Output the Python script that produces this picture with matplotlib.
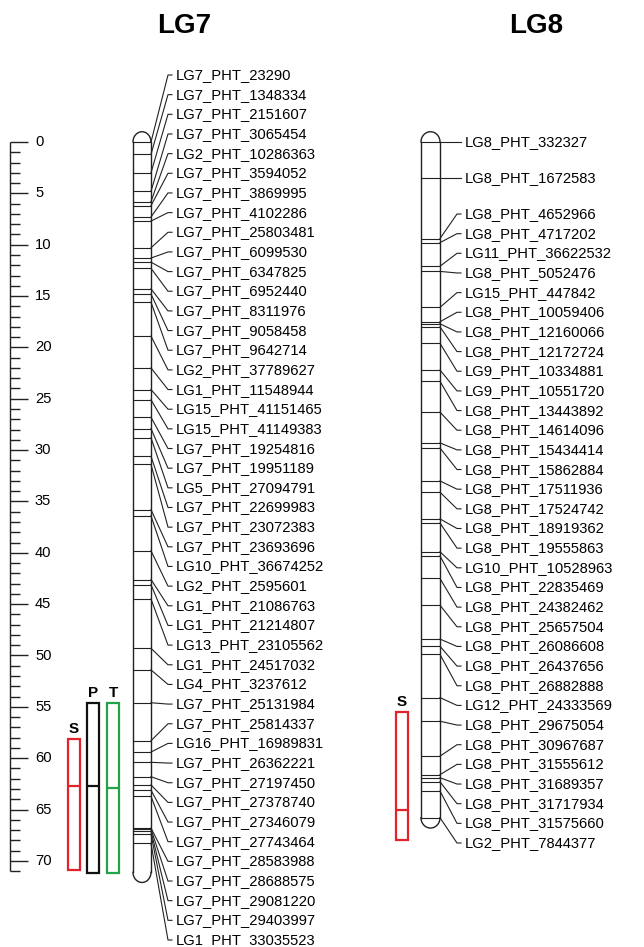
import numpy as np
import matplotlib.pyplot as plt
from matplotlib.patches import Rectangle

plt.rcParams['font.family'] = ['Liberation Sans', 'DejaVu Sans']

# marker names and map positions (cM)
lg7_names = [
    'LG7_PHT_23290', 'LG7_PHT_1348334', 'LG7_PHT_2151607', 'LG7_PHT_3065454',
    'LG2_PHT_10286363', 'LG7_PHT_3594052', 'LG7_PHT_3869995', 'LG7_PHT_4102286',
    'LG7_PHT_25803481', 'LG7_PHT_6099530', 'LG7_PHT_6347825', 'LG7_PHT_6952440',
    'LG7_PHT_8311976', 'LG7_PHT_9058458', 'LG7_PHT_9642714', 'LG2_PHT_37789627',
    'LG1_PHT_11548944', 'LG15_PHT_41151465', 'LG15_PHT_41149383', 'LG7_PHT_19254816',
    'LG7_PHT_19951189', 'LG5_PHT_27094791', 'LG7_PHT_22699983', 'LG7_PHT_23072383',
    'LG7_PHT_23693696', 'LG10_PHT_36674252', 'LG2_PHT_2595601', 'LG1_PHT_21086763',
    'LG1_PHT_21214807', 'LG13_PHT_23105562', 'LG1_PHT_24517032', 'LG4_PHT_3237612',
    'LG7_PHT_25131984', 'LG7_PHT_25814337', 'LG16_PHT_16989831', 'LG7_PHT_26362221',
    'LG7_PHT_27197450', 'LG7_PHT_27378740', 'LG7_PHT_27346079', 'LG7_PHT_27743464',
    'LG7_PHT_28583988', 'LG7_PHT_28688575', 'LG7_PHT_29081220', 'LG7_PHT_29403997',
    'LG1_PHT_33035523']
lg7_pos = [0.0, 1.2, 3.0, 4.8, 5.8, 6.2, 7.3, 7.7, 10.3, 11.3, 11.7, 12.3, 14.3, 14.8,
           15.6, 18.9, 22.0, 24.1, 25.1, 26.8, 27.9, 28.8, 30.6, 31.4, 35.8, 36.4,
           39.8, 42.6, 43.1, 44.5, 49.3, 51.4, 54.6, 58.3, 59.4, 60.4, 61.8, 62.6,
           63.1, 63.7, 66.8, 66.9, 67.1, 67.4, 68.3]
lg7_end = 71.1

lg8_names = [
    'LG8_PHT_332327', 'LG8_PHT_1672583', 'LG8_PHT_4652966', 'LG8_PHT_4717202',
    'LG11_PHT_36622532', 'LG8_PHT_5052476', 'LG15_PHT_447842', 'LG8_PHT_10059406',
    'LG8_PHT_12160066', 'LG8_PHT_12172724', 'LG9_PHT_10334881', 'LG9_PHT_10551720',
    'LG8_PHT_13443892', 'LG8_PHT_14614096', 'LG8_PHT_15434414', 'LG8_PHT_15862884',
    'LG8_PHT_17511936', 'LG8_PHT_17524742', 'LG8_PHT_18919362', 'LG8_PHT_19555863',
    'LG10_PHT_10528963', 'LG8_PHT_22835469', 'LG8_PHT_24382462', 'LG8_PHT_25657504',
    'LG8_PHT_26086608', 'LG8_PHT_26437656', 'LG8_PHT_26882888', 'LG12_PHT_24333569',
    'LG8_PHT_29675054', 'LG8_PHT_30967687', 'LG8_PHT_31555612', 'LG8_PHT_31689357',
    'LG8_PHT_31717934', 'LG8_PHT_31575660', 'LG2_PHT_7844377']
lg8_pos = [0.0, 3.5, 9.4, 9.8, 12.1, 12.6, 16.1, 17.5, 17.7, 18.0, 19.6, 22.2, 23.3,
           26.3, 29.3, 29.8, 33.0, 34.1, 36.7, 37.1, 39.9, 40.3, 42.5, 45.1, 48.4,
           49.1, 49.9, 54.1, 56.4, 59.8, 61.6, 61.9, 62.3, 63.2, 65.8]
lg8_end = 65.8

# QTL intervals: start, peak, end (cM)
qtl_names = ['S', 'P', 'T']
qtl_colors = ['#e3232c', '#111111', '#23a347']
lg7_qtl_start = [58.1, 54.6, 54.6]
lg7_qtl_peak = [62.7, 62.7, 62.9]
lg7_qtl_end = [70.9, 71.2, 71.2]
lg8_qtl_start = [55.5]
lg8_qtl_peak = [65.0]
lg8_qtl_end = [68.0]

ruler_max = 71

# pixel layout
PX = 10.27   # pixels per cM
Y0 = 142     # pixel row of 0 cM


def cm(ypix):
    return (ypix - Y0) / PX


fig = plt.figure(figsize=(6.44, 9.47), dpi=100)
ax = fig.add_axes([0, 0, 1, 1])
ax.set_xlim(0, 644)
ax.set_ylim(cm(947), cm(0))
ax.axis('off')

line_col = '#222222'


def draw_chrom(x0, x1, pos, end, names, label_y, title):
    cx = (x0 + x1) / 2
    r = (x1 - x0) / 2
    cap = 1.0
    t = np.linspace(0, np.pi, 60)
    ax.plot([x0, x0], [0, end], color=line_col, lw=1.0)
    ax.plot([x1, x1], [0, end], color=line_col, lw=1.0)
    ax.plot(cx + r * np.cos(t), -cap * np.sin(t), color=line_col, lw=1.0)
    ax.plot(cx + r * np.cos(t), end + cap * np.sin(t), color=line_col, lw=1.0)
    ax.hlines(pos, x0, x1, color=line_col, lw=0.8)
    xk = x1 + 17
    for m, ly, nm in zip(pos, label_y, names):
        ax.plot([x1, xk, xk + 4], [m, ly, ly], color=line_col, lw=0.8)
        ax.text(xk + 8, ly, nm, fontsize=10.6, va='center', ha='left')
    ax.text(title[0], cm(title[1]), title[2], fontsize=20, fontweight='bold',
            ha='center', va='center')


# label layout
lab7 = np.linspace(cm(75), cm(940), len(lg7_pos))
lab8 = np.concatenate([lg8_pos[:2], np.linspace(cm(214), cm(843), len(lg8_pos) - 2)])

draw_chrom(133, 151, lg7_pos, lg7_end, lg7_names, lab7, (184, 26, 'LG7'))
draw_chrom(421, 440, lg8_pos, lg8_end, lg8_names, lab8, (536, 26, 'LG8'))

# ruler
ax.vlines(10.5, 0, ruler_max, color=line_col, lw=1.0)
for v in range(0, ruler_max + 1):
    ln = 18 if v % 5 == 0 else 10
    ax.hlines(v, 10.5, 10.5 + ln, color=line_col, lw=1.0)
    if v % 5 == 0:
        ax.text(35, v, str(v), fontsize=10.6, va='center', ha='left')


def draw_qtl(xs, starts, peaks, ends, names, colors):
    for x, s, p, e, nm, c in zip(xs, starts, peaks, ends, names, colors):
        ax.add_patch(Rectangle((x, s), 12, e - s, fill=False, edgecolor=c, lw=1.6))
        ax.hlines(p, x, x + 12, color=c, lw=1.6)
        ax.text(x + 6, s - 0.3, nm, fontsize=11, fontweight='bold', ha='center',
                va='bottom')


draw_qtl([68, 87.5, 107.5], lg7_qtl_start, lg7_qtl_peak, lg7_qtl_end,
         qtl_names, qtl_colors)
draw_qtl([396], lg8_qtl_start, lg8_qtl_peak, lg8_qtl_end, qtl_names[:1],
         qtl_colors[:1])

fig.savefig('out.png', dpi=100)
